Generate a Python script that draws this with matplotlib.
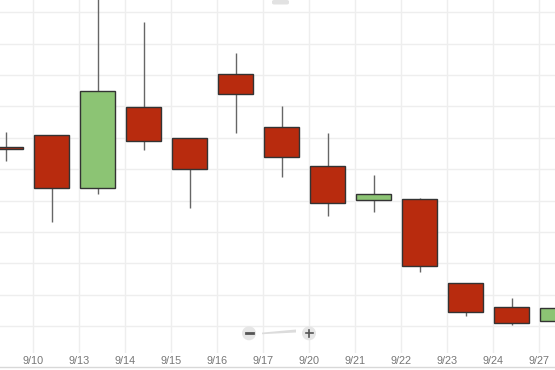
#!/usr/bin/env python
'''
plot.py: candlestick chart, daily prices 9/10 - 9/27
'''

import matplotlib
matplotlib.use("Agg")
import matplotlib.pyplot as plt
from matplotlib.patches import Rectangle, Circle, Polygon, FancyBboxPatch
from matplotlib.lines import Line2D
import numpy as np

# candle data (one per trading day)
opens = [15.72, 16.09, 14.41, 16.98, 16.00, 18.04, 16.34, 15.10, 14.01, 14.04, 11.38, 10.62, 10.16]
closes = [15.64, 14.41, 17.49, 15.91, 15.01, 17.40, 15.39, 13.93, 14.22, 11.93, 10.46, 10.11, 10.58]
highs = [16.20, 16.09, 20.80, 19.68, 16.00, 18.69, 17.01, 16.15, 14.82, 14.10, 11.38, 10.91, 10.70]
lows = [15.26, 13.31, 14.21, 15.62, 13.76, 16.16, 14.75, 13.52, 13.65, 11.74, 10.32, 10.05, 10.10]

date_labels = ["9/10", "9/13", "9/14", "9/15", "9/16", "9/17",
               "9/20", "9/21", "9/22", "9/23", "9/24", "9/27"]

red = '#b82b0e'
green = '#8cc474'
W, H = 555, 370


def main():
    plt.rcParams['font.family'] = ['Liberation Sans', 'DejaVu Sans']

    fig = plt.figure(figsize=(W / 100, H / 100), dpi=100)
    ax = fig.add_axes([0, (H - 353) / H, 1, 353 / H])

    # horizontal grid every 1.0, vertical grid at label positions
    for v in np.arange(10, 21):
        ax.axhline(v, color='#eeeeee', lw=1.0, zorder=0)
    label_pos = np.arange(len(date_labels)) + 0.587
    for x in label_pos:
        ax.axvline(x, color='#eeeeee', lw=1.0, zorder=0)

    width = 0.75
    for i, (o, c, h, l) in enumerate(zip(opens, closes, highs, lows)):
        ax.plot([i, i], [l, h], color='#666666', lw=1.0, zorder=2,
                solid_capstyle='butt')
        color = green if c >= o else red
        ax.add_patch(Rectangle((i - width / 2, min(o, c)), width, abs(c - o),
                               facecolor=color, edgecolor='#333333',
                               lw=1.0, zorder=3))

    ax.set_xlim(-5.7 / 46, (W - 5.7) / 46)
    ax.set_ylim(10 + (326.3 - 353) / 31.4, 10 + 326.3 / 31.4)

    ax.set_xticks(label_pos)
    ax.set_xticklabels(date_labels, fontsize=7.8, color='#777777')
    ax.tick_params(axis='x', length=0, pad=2.0)
    ax.set_yticks([])
    for s in ax.spines.values():
        s.set_visible(False)

    # bottom border line
    fig.add_artist(Line2D([0, 1], [1 - 366.7 / H] * 2, color='#d8d8d8',
                          lw=1.0, transform=fig.transFigure))

    # zoom controls: "-" button, slider, "+" button
    def fx(px):
        return px / W

    def fy(py):
        return 1 - py / H

    for cx in (249, 309):
        fig.add_artist(Circle((cx, H - 333.3), 7, transform=None,
                              facecolor='#e6e6e6', edgecolor='none', zorder=5))
    fig.add_artist(Line2D([fx(245.5), fx(252.5)], [fy(333.3)] * 2,
                          color='#555555', lw=2.0, transform=fig.transFigure, zorder=6))
    fig.add_artist(Line2D([fx(305.5), fx(312.5)], [fy(333.3)] * 2,
                          color='#555555', lw=1.2, transform=fig.transFigure, zorder=6))
    fig.add_artist(Line2D([fx(309)] * 2, [fy(329.8), fy(336.8)],
                          color='#555555', lw=1.2, transform=fig.transFigure, zorder=6))
    fig.add_artist(Polygon([(fx(262), fy(334.2)), (fx(296), fy(332.5)),
                            (fx(296), fy(329.5)), (fx(262), fy(332.6))],
                           closed=True, facecolor='#dcdcdc', edgecolor='none',
                           transform=fig.transFigure, zorder=5))

    # small menu box at the top
    fig.add_artist(FancyBboxPatch((fx(272), fy(4.5)), fx(289) - fx(272), fy(0) - fy(4.5),
                                  boxstyle='round,pad=0,rounding_size=0.004',
                                  facecolor='#e2e2e2', edgecolor='none',
                                  transform=fig.transFigure, zorder=5))

    fig.savefig('out.png', dpi=100)
    plt.close()


if __name__ == '__main__':
    main()
